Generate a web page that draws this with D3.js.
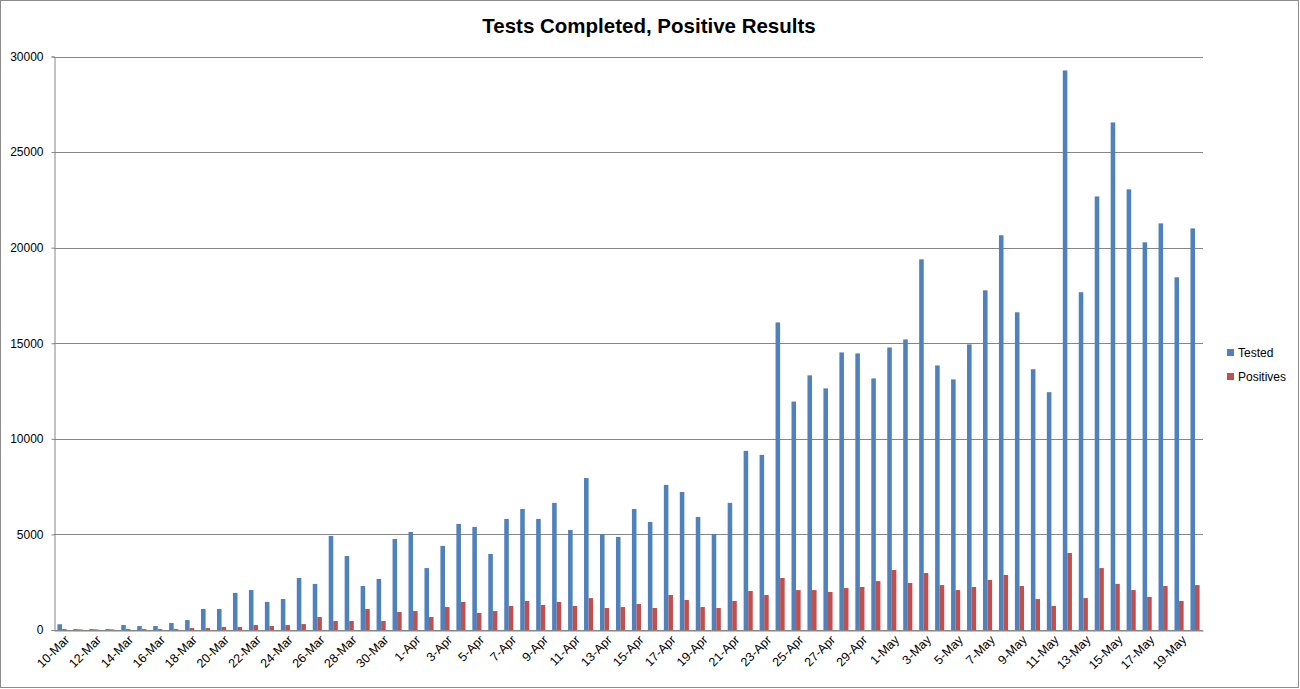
<!DOCTYPE html>
<html>
<head>
<meta charset="utf-8">
<script src="https://d3js.org/d3.v7.min.js"></script>
<style>
  html, body { margin: 0; padding: 0; background: #fff; }
  svg text { font-family: "Liberation Sans", Arial, sans-serif; }
</style>
</head>
<body>
<div id="chart"></div>
<script>
const DATES = [
  '10-Mar', '11-Mar', '12-Mar', '13-Mar', '14-Mar', '15-Mar', '16-Mar', '17-Mar', '18-Mar', '19-Mar', '20-Mar',
  '21-Mar', '22-Mar', '23-Mar', '24-Mar', '25-Mar', '26-Mar', '27-Mar', '28-Mar', '29-Mar', '30-Mar', '31-Mar',
  '1-Apr', '2-Apr', '3-Apr', '4-Apr', '5-Apr', '6-Apr', '7-Apr', '8-Apr', '9-Apr', '10-Apr',
  '11-Apr', '12-Apr', '13-Apr', '14-Apr', '15-Apr', '16-Apr', '17-Apr', '18-Apr', '19-Apr', '20-Apr',
  '21-Apr', '22-Apr', '23-Apr', '24-Apr', '25-Apr', '26-Apr', '27-Apr', '28-Apr', '29-Apr', '30-Apr',
  '1-May', '2-May', '3-May', '4-May', '5-May', '6-May', '7-May', '8-May', '9-May', '10-May',
  '11-May', '12-May', '13-May', '14-May', '15-May', '16-May', '17-May', '18-May', '19-May', '20-May'
];

const TESTED = [
  300, 50, 50, 50, 260, 210, 210, 370, 520, 1100, 1100, 1940, 2090, 1470, 1620, 2720, 2410, 4920, 3870, 2300, 2670, 4760,
  5130, 3240, 4400, 5550, 5390, 3980, 5810, 6330, 5810, 6650, 5230, 7950, 5020, 4870, 6330, 5650, 7590, 7220, 5910, 5020,
  6650, 9370, 9160, 16090, 11950, 13320, 12640, 14520, 14470, 13160,
  14780, 15200, 19390, 13840, 13110, 14940, 17770, 20650, 16620, 13640, 12440, 29270, 17670, 22680, 26550, 23050,
  20280, 21270, 18450, 21010
];

const POSITIVES = [
  50, 30, 30, 30, 50, 50, 50, 50, 100, 100, 160, 160, 260, 210, 260, 310, 680, 470, 470, 1100, 470, 940,
  990, 680, 1200, 1470, 890, 990, 1260, 1520, 1310, 1470, 1260, 1670, 1150, 1200, 1360, 1150, 1830, 1570, 1200, 1150,
  1520, 2040, 1830, 2720, 2090, 2090, 1990, 2200, 2250, 2560,
  3140, 2460, 2980, 2350, 2090, 2250, 2620, 2880, 2300, 1620, 1260, 4030, 1670, 3240, 2410, 2090,
  1730, 2300, 1520, 2350
];

const SERIES = ['Tested', 'Positives'];
const Y_TICKS = [0, 5000, 10000, 15000, 20000, 25000, 30000];
const TITLE = 'Tests Completed, Positive Results';

const width = 1300;
const height = 689;
const plot = { left: 54, right: 1203, top: 56.5, bottom: 630 };
const colors = { Tested: '#4F81BD', Positives: '#C0504D' };

const rows = DATES.map((d, i) => ({ date: d, Tested: TESTED[i], Positives: POSITIVES[i] }));

const svg = d3.select('#chart')
  .append('svg')
  .attr('width', width)
  .attr('height', height);

svg.append('rect')
  .attr('x', 0.5)
  .attr('y', 0.5)
  .attr('width', width - 2)
  .attr('height', height - 2)
  .attr('fill', '#fff')
  .attr('stroke', '#8c8c8c');

const x0 = d3.scaleBand()
  .domain(DATES)
  .range([plot.left, plot.right])
  .padding(0);

// excel style: gap of 150% of a bar, split on both sides
const bw = x0.bandwidth();
const barW = bw / 3.5;
const x1 = d3.scaleBand()
  .domain(SERIES)
  .range([barW * 0.75, barW * 0.75 + barW * 2]);

const y = d3.scaleLinear()
  .domain([0, 30000])
  .range([plot.bottom, plot.top]);

// gridlines
svg.append('g')
  .selectAll('line')
  .data(Y_TICKS)
  .join('line')
  .attr('x1', plot.left)
  .attr('x2', plot.right)
  .attr('y1', d => Math.round(y(d)) + 0.5)
  .attr('y2', d => Math.round(y(d)) + 0.5)
  .attr('stroke', '#868686')
  .attr('stroke-width', 1);

// y axis
const yAxis = svg.append('g')
  .attr('transform', `translate(${plot.left + 0.5},0)`)
  .call(d3.axisLeft(y).tickValues(Y_TICKS).tickSize(3).tickPadding(8).tickFormat(d3.format('d')));
yAxis.select('.domain').attr('stroke', '#868686');
yAxis.selectAll('.tick line').attr('stroke', '#868686');
yAxis.selectAll('.tick text')
  .attr('font-size', 12)
  .attr('fill', '#000')
  .attr('font-family', '"Liberation Sans", Arial, sans-serif');

// bars
const groups = svg.append('g')
  .selectAll('g')
  .data(rows)
  .join('g')
  .attr('transform', d => `translate(${x0(d.date)},0)`);

groups.selectAll('rect')
  .data(d => SERIES.map(k => ({ key: k, value: d[k] })))
  .join('rect')
  .attr('x', d => x1(d.key))
  .attr('width', x1.bandwidth())
  .attr('y', d => y(d.value))
  .attr('height', d => y(0) - y(d.value))
  .attr('fill', d => colors[d.key]);

// x axis
const xAxis = svg.append('g')
  .attr('transform', `translate(0,${Math.round(y(0)) + 0.5})`)
  .call(d3.axisBottom(x0).tickSize(0).tickValues(DATES.filter((d, i) => i % 2 === 0)));
xAxis.select('.domain').attr('stroke', '#868686');
xAxis.selectAll('.tick text')
  .attr('font-size', 12.5)
  .attr('fill', '#000')
  .attr('font-family', '"Liberation Sans", Arial, sans-serif')
  .attr('text-anchor', 'end')
  .attr('transform', 'translate(5,7) rotate(-45)')
  .attr('dy', '0.35em')
  .attr('y', 0)
  .attr('x', 0);

// title
svg.append('text')
  .attr('x', 649)
  .attr('y', 33)
  .attr('text-anchor', 'middle')
  .attr('font-size', 20.5)
  .attr('font-weight', 'bold')
  .attr('fill', '#000')
  .text(TITLE);

// legend
const legend = svg.append('g')
  .selectAll('g')
  .data(SERIES)
  .join('g')
  .attr('transform', (d, i) => `translate(1227,${349 + i * 24})`);

legend.append('rect')
  .attr('width', 7)
  .attr('height', 7)
  .attr('fill', d => colors[d]);

legend.append('text')
  .attr('x', 11)
  .attr('y', 4)
  .attr('dy', '0.35em')
  .attr('font-size', 12)
  .attr('fill', '#000')
  .text(d => d);
</script>
</body>
</html>
